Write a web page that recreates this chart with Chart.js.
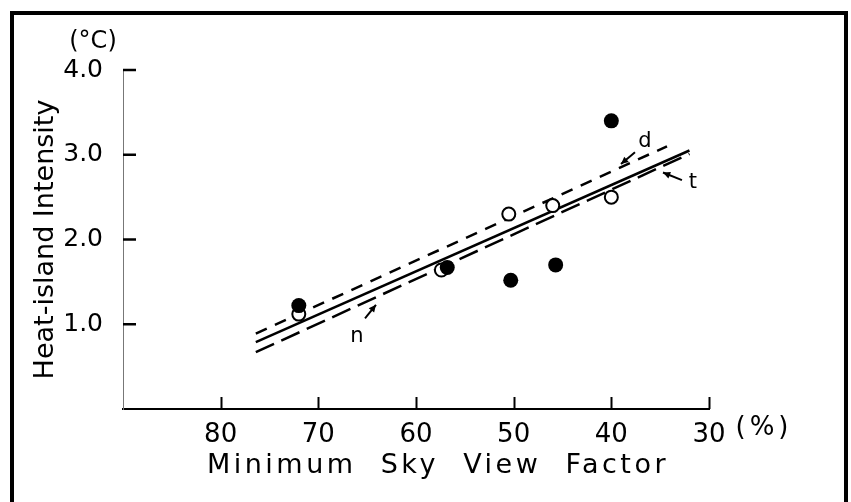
<!DOCTYPE html>
<html><head><meta charset="utf-8">
<script src="https://cdn.jsdelivr.net/npm/chart.js@4"></script>
<style>html,body{margin:0;padding:0;background:#fff}#wrap{width:851px;height:502px;position:relative}</style>
</head><body><div id="wrap"><canvas id="c" width="851" height="502"></canvas></div>
<script>
const xTicks = [80, 70, 60, 50, 40, 30];
const yTicks = [1, 2, 3, 4];
const filledX = [72, 56.8, 50.3, 45.7, 40];
const filledY = [1.22, 1.67, 1.52, 1.70, 3.40];
const openX = [72, 57.4, 50.5, 46, 40];
const openY = [1.12, 1.64, 2.30, 2.40, 2.50];
const lineDX = [76.4, 34.3];
const lineDY = [0.89, 3.10];
const lineTX = [76.4, 32.0];
const lineTY = [0.79, 3.05];
const lineNX = [76.4, 32.0];
const lineNY = [0.67, 3.01];
const labelText = ['d', 't', 'n'];
const labelX = [36.55, 31.64, 66.04];
const labelY = [3.15, 2.67, 0.86];
const arrowFromX = [37.58, 32.77, 65.22];
const arrowFromY = [3.03, 2.70, 1.07];
const arrowToX = [39.01, 34.71, 64.10];
const arrowToY = [2.89, 2.79, 1.23];
const yTitle = 'Heat-island Intensity';
const xTitle = 'Minimum  Sky  View  Factor';
const yUnit = '(°C)';
const xUnit = '(%)';

const pts = (xs, ys) => xs.map((v, i) => ({x: v, y: ys[i]}));
const FONT = '"DejaVu Sans", sans-serif';

const deco = {
  id: 'deco',
  afterDraw(chart) {
    const {ctx, chartArea: a, scales: {x, y}} = chart;
    ctx.save();
    ctx.strokeStyle = '#000';
    ctx.lineCap = 'butt';
    ctx.lineWidth = 2;
    xTicks.forEach(v => {
      const p = Math.round(x.getPixelForValue(v)) + 0.5;
      ctx.beginPath(); ctx.moveTo(p, a.bottom); ctx.lineTo(p, a.bottom - 12); ctx.stroke();
    });
    ctx.lineWidth = 2.5;
    yTicks.forEach(v => {
      const p = y.getPixelForValue(v);
      ctx.beginPath(); ctx.moveTo(a.left, p); ctx.lineTo(a.left + 13, p); ctx.stroke();
    });
    ctx.fillStyle = '#000';
    ctx.textAlign = 'center';
    ctx.textBaseline = 'middle';
    ctx.font = '24px ' + FONT;
    ctx.fillText(yUnit, a.left - 30, y.getPixelForValue(4) - 28);
    ctx.font = '26px ' + FONT;
    try { ctx.letterSpacing = '4px'; } catch (e) {}
    ctx.fillText(xUnit, x.getPixelForValue(30) + 55, a.bottom + 19);
    ctx.font = '27px ' + FONT;
    try { ctx.letterSpacing = '3.5px'; } catch (e) {}
    ctx.textBaseline = 'alphabetic';
    ctx.fillText(xTitle, (a.left + a.right) / 2 + 22, a.bottom + 64);
    try { ctx.letterSpacing = '0px'; } catch (e) {}
    ctx.font = '21px ' + FONT;
    ctx.textBaseline = 'middle';
    labelText.forEach((t, i) => {
      ctx.fillText(t, x.getPixelForValue(labelX[i]), y.getPixelForValue(labelY[i]));
    });
    ctx.lineWidth = 2;
    arrowFromX.forEach((fx, i) => {
      const x0 = x.getPixelForValue(fx), y0 = y.getPixelForValue(arrowFromY[i]);
      const x1 = x.getPixelForValue(arrowToX[i]), y1 = y.getPixelForValue(arrowToY[i]);
      ctx.beginPath(); ctx.moveTo(x0, y0); ctx.lineTo(x1, y1); ctx.stroke();
      const ang = Math.atan2(y1 - y0, x1 - x0);
      const L = 8, W = 0.45;
      ctx.beginPath();
      ctx.moveTo(x1, y1);
      ctx.lineTo(x1 - L * Math.cos(ang - W), y1 - L * Math.sin(ang - W));
      ctx.lineTo(x1 - L * Math.cos(ang + W), y1 - L * Math.sin(ang + W));
      ctx.closePath(); ctx.fill();
    });
    ctx.fillRect(10, 11, 4, 491);
    ctx.fillRect(10, 11, 838, 4);
    ctx.fillRect(844, 11, 4, 491);
    ctx.restore();
  }
};

new Chart(document.getElementById('c'), {
  type: 'scatter',
  data: {
    datasets: [
      {data: pts(filledX, filledY), pointRadius: 7.5, pointBackgroundColor: '#000', pointBorderColor: '#000', pointBorderWidth: 0, showLine: false},
      {data: pts(openX, openY), pointRadius: 6.5, pointBackgroundColor: '#fff', pointBorderColor: '#000', pointBorderWidth: 2, showLine: false},
      {data: pts(lineDX, lineDY), showLine: true, borderColor: '#000', borderWidth: 2.5, borderDash: [12, 9], pointRadius: 0},
      {data: pts(lineTX, lineTY), showLine: true, borderColor: '#000', borderWidth: 2.5, pointRadius: 0},
      {data: pts(lineNX, lineNY), showLine: true, borderColor: '#000', borderWidth: 2.5, borderDash: [20, 8], pointRadius: 0}
    ]
  },
  options: {
    responsive: false,
    animation: false,
    layout: {padding: {top: 70, right: 142, bottom: 0, left: 0}},
    plugins: {legend: {display: false}, tooltip: {enabled: false}},
    scales: {
      x: {
        type: 'linear', reverse: true, min: 30, max: 90,
        afterBuildTicks: s => { s.ticks = xTicks.map(v => ({value: v})); },
        afterFit: s => { s.height = 93; },
        grid: {display: false},
        border: {display: true, color: '#000', width: 2},
        ticks: {color: '#000', padding: 3, font: {family: FONT, size: 26}, maxRotation: 0, autoSkip: false, callback: v => String(v)}
      },
      y: {
        type: 'linear', min: 0, max: 4,
        afterBuildTicks: s => { s.ticks = yTicks.map(v => ({value: v})); },
        afterFit: s => { s.width = 123; },
        grid: {display: false},
        border: {display: true, color: '#777', width: 1, dash: [2, 3]},
        ticks: {color: '#000', padding: 12, font: {family: FONT, size: 25}, callback: v => Number(v).toFixed(1)},
        title: {display: true, text: yTitle, color: '#000', font: {family: FONT, size: 27}, padding: {top: 30, bottom: 0}}
      }
    }
  },
  plugins: [deco]
});
</script></body></html>
